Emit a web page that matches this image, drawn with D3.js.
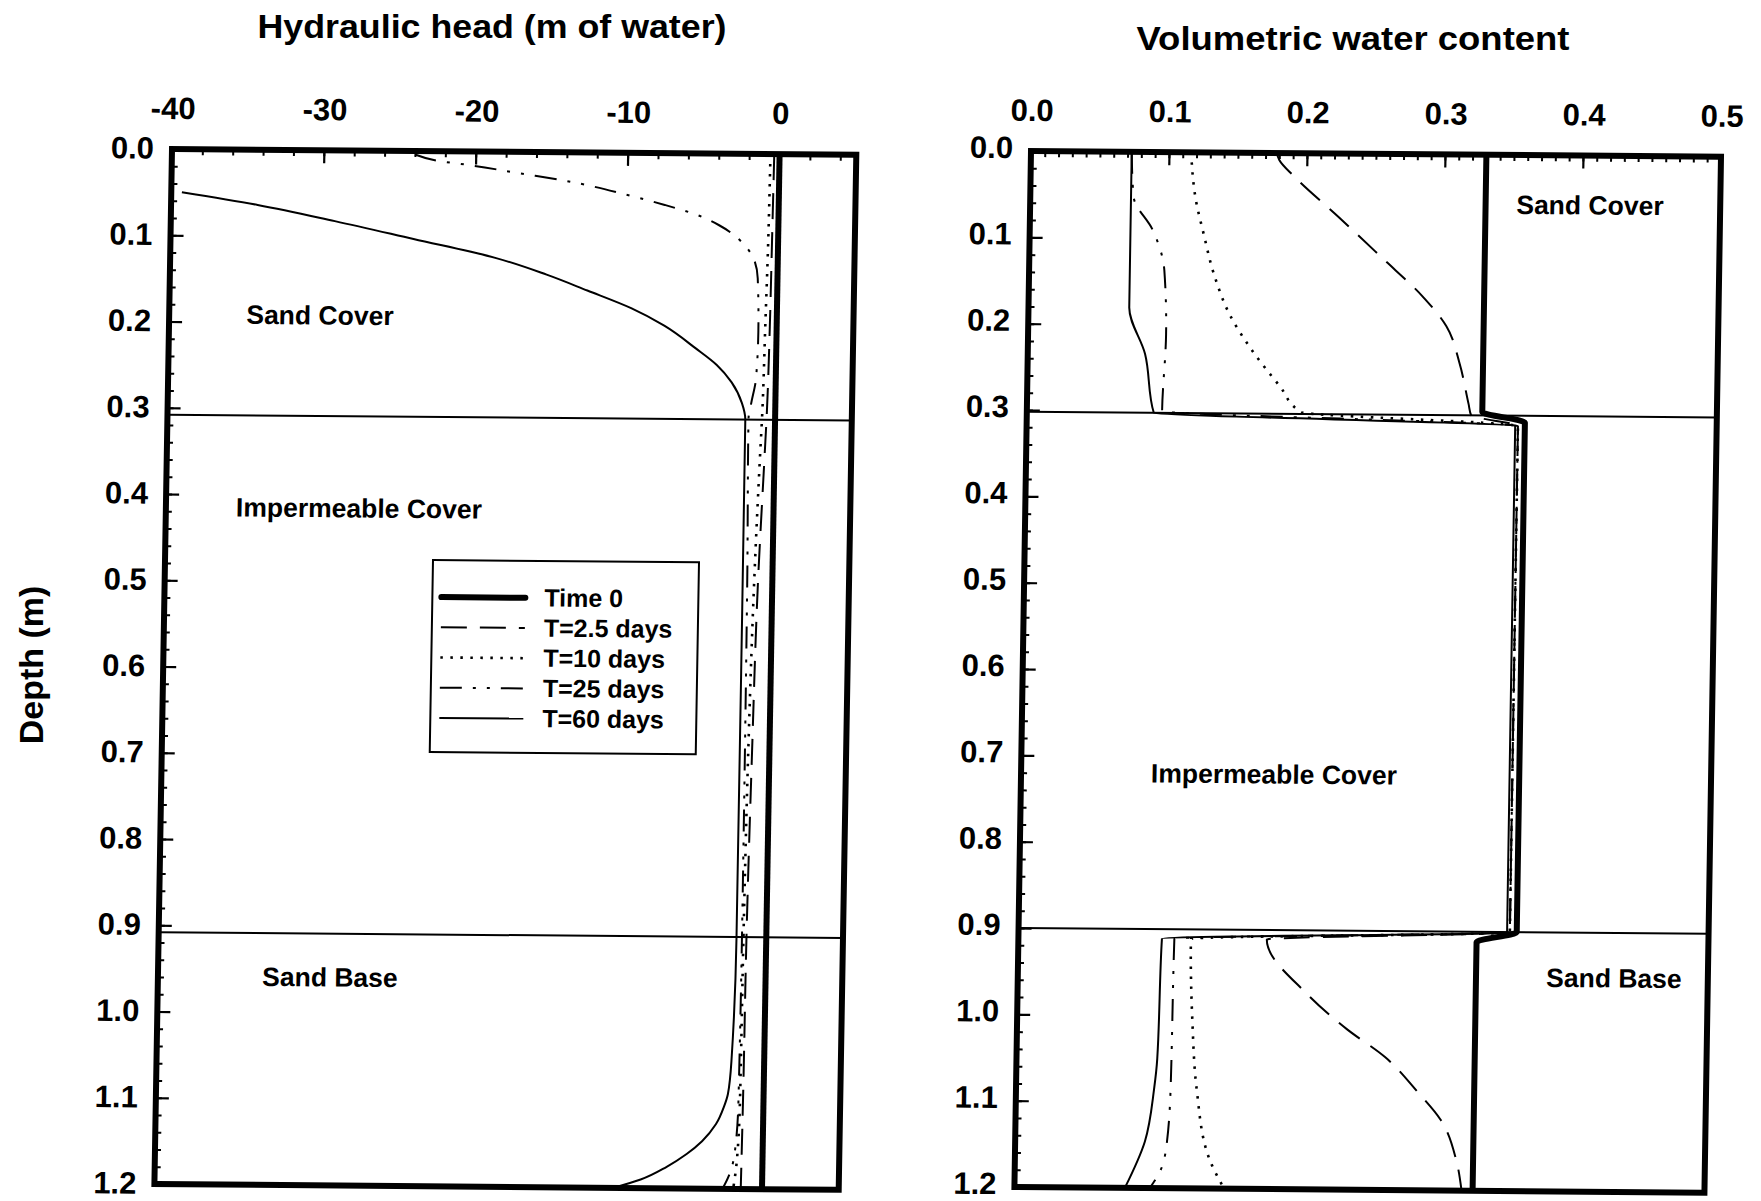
<!DOCTYPE html>
<html>
<head>
<meta charset="utf-8">
<script src="https://cdn.jsdelivr.net/npm/d3@7"></script>
<style>
  body { margin: 0; background: #fff; }
  svg { display: block; }
  text { font-family: "Liberation Sans", Arial, Helvetica, sans-serif; font-weight: bold; fill: #000; }
</style>
</head>
<body>
<svg id="chart" width="1761" height="1201"></svg>
<script>
// ---------------- DATA ----------------
const seriesNames = ["Time 0", "T=2.5 days", "T=10 days", "T=25 days", "T=60 days"];
const depthTicks = [0.0, 0.1, 0.2, 0.3, 0.4, 0.5, 0.6, 0.7, 0.8, 0.9, 1.0, 1.1, 1.2];
const headTicks = [-40, -30, -20, -10, 0];
const wcTicks = [0.0, 0.1, 0.2, 0.3, 0.4, 0.5];
const headDomain = [-40, 5.05];
const wcDomain = [0, 0.5];
const depthDomain = [0, 1.2];

// layer boundaries (depth, m) as drawn in each panel
const headLayerDepths = [0.308, 0.908];
const wcLayerDepths = [0.302, 0.900];

// Hydraulic head profiles: [depth (m), head (m of water)]
const headTime0 = [[0.0, 0.0], [1.2, 0.0]];
const headT2_5 = [[0.0, -0.35], [0.1, -0.4], [0.2, -0.45], [0.3, -0.55], [0.35, -0.65], [0.5, -0.95], [0.7, -1.15], [0.9, -1.3], [1.1, -1.35], [1.2, -1.4]];
const headT10 = [[0.0, -0.6], [0.1, -0.65], [0.2, -0.75], [0.3, -0.85], [0.35, -0.95], [0.5, -1.2], [0.7, -1.4], [0.9, -1.5], [1.1, -1.55], [1.17, -1.7], [1.2, -1.9]];
const headT25 = [[0.004, -24], [0.011, -22.5], [0.016, -20.3], [0.025, -17], [0.032, -14.4], [0.05, -9.7], [0.06, -7.5], [0.071, -5.4], [0.083, -3.9], [0.093, -3.0], [0.104, -2.3], [0.121, -1.6], [0.144, -1.3], [0.207, -1.2], [0.26, -1.3], [0.29, -1.6], [0.307, -1.75], [0.5, -1.65], [0.9, -1.6], [1.1, -1.65], [1.16, -1.85], [1.185, -2.2], [1.2, -2.6]];
const headT60 = [[0.05, -39.3], [0.064, -34.3], [0.082, -29.2], [0.102, -24.0], [0.123, -18.6], [0.142, -15.2], [0.16, -12.5], [0.18, -9.6], [0.2, -7.4], [0.226, -5.3], [0.245, -3.9], [0.265, -2.9], [0.289, -2.2], [0.308, -1.96], [0.6, -1.95], [0.91, -1.96], [1.05, -2.15], [1.09, -2.35], [1.105, -2.6], [1.125, -3.1], [1.145, -4.0], [1.16, -5.0], [1.175, -6.3], [1.19, -8.0], [1.2, -9.8]];

// Volumetric water content profiles: [depth (m), water content]
const wcTime0 = [[0.0, 0.330], [0.298, 0.330], [0.310, 0.361], [0.900, 0.361], [0.912, 0.332], [1.2, 0.332]];
const wcT2_5 = [[0.0, 0.178], [0.008, 0.180], [0.027, 0.191], [0.074, 0.224], [0.121, 0.256], [0.164, 0.285], [0.199, 0.303], [0.242, 0.313], [0.289, 0.320], [0.302, 0.322], [0.314, 0.356], [0.9, 0.356], [0.911, 0.180], [0.974, 0.210], [1.014, 0.239], [1.046, 0.267], [1.086, 0.291], [1.118, 0.308], [1.166, 0.320], [1.2, 0.324]];
const wcT10 = [[0.0, 0.116], [0.055, 0.120], [0.094, 0.126], [0.141, 0.134], [0.188, 0.146], [0.23, 0.163], [0.27, 0.183], [0.30, 0.199], [0.314, 0.356], [0.9, 0.356], [0.911, 0.125], [1.006, 0.127], [1.086, 0.131], [1.166, 0.141], [1.2, 0.152]];
const wcT25 = [[0.0, 0.073], [0.053, 0.075], [0.09, 0.089], [0.137, 0.098], [0.211, 0.100], [0.30, 0.098], [0.314, 0.356], [0.9, 0.356], [0.911, 0.113], [1.086, 0.112], [1.146, 0.110], [1.178, 0.106], [1.2, 0.098]];
const wcT60 = [[0.0, 0.073], [0.18, 0.073], [0.234, 0.085], [0.302, 0.092], [0.314, 0.354], [0.9, 0.354], [0.911, 0.104], [1.05, 0.102], [1.086, 0.100], [1.146, 0.094], [1.2, 0.080]];

const headSeries = [headTime0, headT2_5, headT10, headT25, headT60];
const wcSeries = [wcTime0, wcT2_5, wcT10, wcT25, wcT60];

// ---------------- STYLE / LAYOUT ----------------
const lineStyles = [
  { w: 6, dash: null },
  { w: 2, dash: "26,13" },
  { w: 2.6, dash: "2.5,7.5" },
  { w: 2, dash: "22,11,3,11,3,11" },
  { w: 2, dash: null }
];

const svg = d3.select("#chart");
const hyphenFmt = d => (d < 0 ? "-" + Math.abs(d) : String(d));

// panels are slightly sheared to follow the scanned original
const panels = [
  { key: "head", x0: 172, y0: 149, w: 684.3, h: 1035, a: -0.017, b: 0.0085, yLabelDy: "0.3em",
    domain: headDomain, ticks: headTicks, minorStep: 2, series: headSeries, layers: headLayerDepths,
    fmt: hyphenFmt, title: "Hydraulic head (m of water)", titleX: 492, titleY: 38, titleLen: 469, titleSize: 33 },
  { key: "wc", x0: 1031, y0: 151, w: 690, h: 1036, a: -0.016, b: 0.0082, yLabelDy: "0.22em",
    domain: wcDomain, ticks: wcTicks, minorStep: 0.01, series: wcSeries, layers: wcLayerDepths,
    fmt: d3.format(".1f"), title: "Volumetric water content", titleX: 1353, titleY: 50, titleLen: 433, titleSize: 34 }
];

function inv(p, X, Y) {
  const dx = X - p.x0, dy = Y - p.y0, det = 1 - p.a * p.b;
  return [(dx - p.a * dy) / det, (dy - p.b * dx) / det];
}

panels.forEach(p => {
  const g = svg.append("g").attr("transform", `matrix(1,${p.b},${p.a},1,${p.x0},${p.y0})`);
  const x = d3.scaleLinear().domain(p.domain).range([0, p.w]);
  const y = d3.scaleLinear().domain(depthDomain).range([0, p.h]);

  // minor + major ticks on top axis
  const nMinor = Math.round((p.domain[1] - p.domain[0]) / p.minorStep);
  const minorX = d3.range(0, nMinor + 1).map(i => +(p.domain[0] + i * p.minorStep).toFixed(4)).filter(v => v <= p.domain[1]);
  g.append("g").call(d3.axisTop(x).tickValues(minorX).tickSize(-6).tickFormat(""))
    .call(s => s.select(".domain").remove())
    .call(s => s.selectAll("text").remove())
    .selectAll("line").attr("stroke", "#000").attr("stroke-width", 2);
  g.append("g").call(d3.axisTop(x).tickValues(p.ticks).tickSize(-13).tickPadding(30).tickFormat(p.fmt))
    .call(s => s.select(".domain").remove())
    .call(s => s.selectAll("line").attr("stroke", "#000").attr("stroke-width", 2.2))
    .call(s => s.selectAll("text").attr("font-size", 31).attr("font-family", null).attr("fill", "#000"));

  // left axis ticks
  const minorY = d3.range(0, 61).map(i => +(i * 0.02).toFixed(3));
  g.append("g").call(d3.axisLeft(y).tickValues(minorY).tickSize(-6).tickFormat(""))
    .call(s => s.select(".domain").remove())
    .call(s => s.selectAll("text").remove())
    .selectAll("line").attr("stroke", "#000").attr("stroke-width", 2);
  g.append("g").call(d3.axisLeft(y).tickValues(depthTicks).tickSize(-13).tickPadding(18).tickFormat(d3.format(".1f")))
    .call(s => s.select(".domain").remove())
    .call(s => s.selectAll("line").attr("stroke", "#000").attr("stroke-width", 2.2))
    .call(s => s.selectAll("text").attr("font-size", 31).attr("font-family", null).attr("fill", "#000").attr("dy", p.yLabelDy));

  // layer boundaries
  g.selectAll("line.layer").data(p.layers).join("line").attr("class", "layer")
    .attr("x1", 0).attr("x2", p.w).attr("y1", d => y(d)).attr("y2", d => y(d))
    .attr("stroke", "#000").attr("stroke-width", 2);

  // profiles
  const line = d3.line().x(d => x(d[1])).y(d => y(d[0])).curve(d3.curveMonotoneY);
  g.selectAll("path.profile").data(p.series).join("path").attr("class", "profile")
    .attr("d", line).attr("fill", "none").attr("stroke", "#000")
    .attr("stroke-width", (d, i) => lineStyles[i].w)
    .attr("stroke-dasharray", (d, i) => lineStyles[i].dash);

  // frame
  g.append("rect").attr("x", 0).attr("y", 0).attr("width", p.w).attr("height", p.h)
    .attr("fill", "none").attr("stroke", "#000").attr("stroke-width", 6);

  p.g = g;
});

// titles
panels.forEach(p => {
  svg.append("text").attr("x", p.titleX).attr("y", p.titleY).attr("text-anchor", "middle")
    .attr("font-size", p.titleSize).attr("textLength", p.titleLen).attr("lengthAdjust", "spacingAndGlyphs")
    .text(p.title);
});

svg.append("text").attr("transform", "translate(43,665) rotate(-90)").attr("text-anchor", "middle")
  .attr("font-size", 34).text("Depth (m)");

// region labels (screen-center positions)
const regionLabels = [
  { p: 0, t: "Sand Cover", X: 320, Y: 315 },
  { p: 0, t: "Impermeable Cover", X: 359, Y: 508 },
  { p: 0, t: "Sand Base", X: 330, Y: 977 },
  { p: 1, t: "Sand Cover", X: 1590, Y: 205 },
  { p: 1, t: "Impermeable Cover", X: 1274, Y: 774 },
  { p: 1, t: "Sand Base", X: 1614, Y: 978 }
];
regionLabels.forEach(r => {
  const p = panels[r.p];
  const [u, v] = inv(p, r.X, r.Y);
  p.g.append("text").attr("x", u).attr("y", v + 9.5).attr("text-anchor", "middle")
    .attr("font-size", 26.5).text(r.t);
});

// legend (inside left panel)
{
  const p = panels[0];
  const [lu, lv] = inv(p, 433, 560);
  const lg = p.g.append("g").attr("transform", `translate(${lu},${lv})`);
  lg.append("rect").attr("width", 266).attr("height", 192).attr("fill", "#fff")
    .attr("stroke", "#000").attr("stroke-width", 2);
  seriesNames.forEach((name, i) => {
    const yy = 37 + i * 30.2;
    lg.append("line").attr("x1", 9).attr("x2", 93).attr("y1", yy).attr("y2", yy)
      .attr("stroke", "#000").attr("stroke-width", lineStyles[i].w)
      .attr("stroke-linecap", i === 0 ? "round" : "butt")
      .attr("stroke-dasharray", lineStyles[i].dash);
    lg.append("text").attr("x", 112).attr("y", yy + 8.5).attr("font-size", 25).text(name);
  });
}
</script>
</body>
</html>
